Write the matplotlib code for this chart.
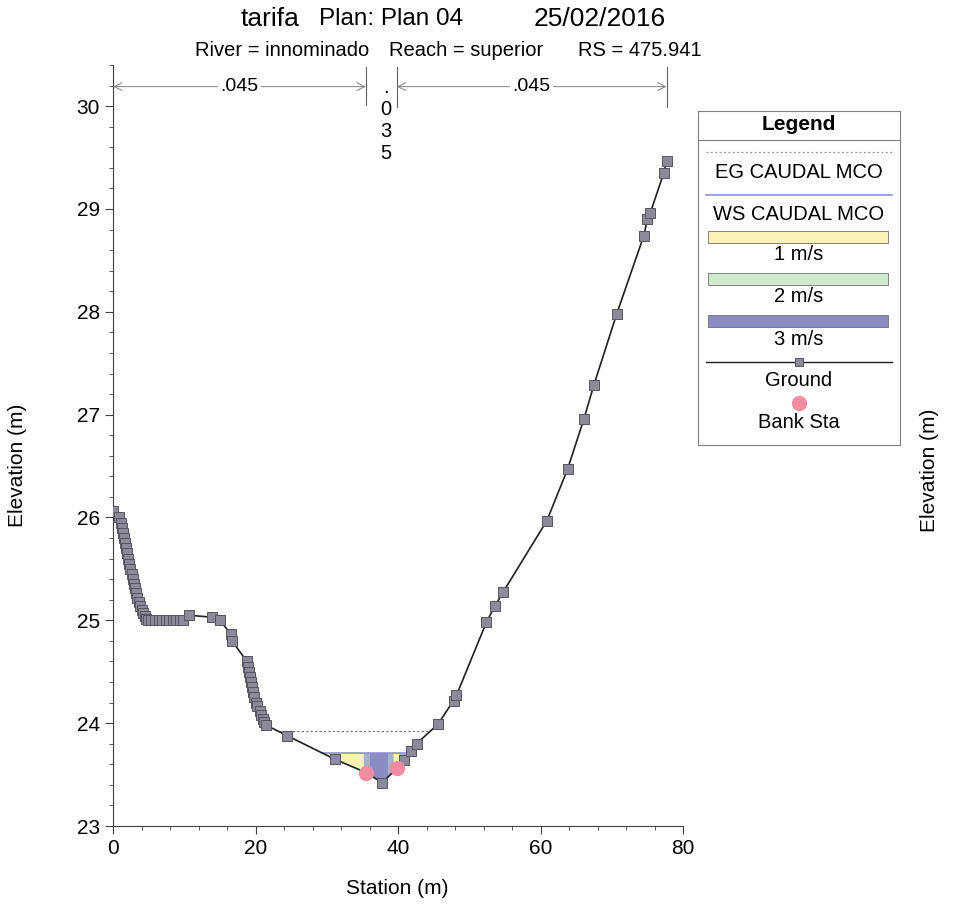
import numpy as np
import matplotlib.pyplot as plt
from matplotlib.ticker import MultipleLocator
from matplotlib.colors import LinearSegmentedColormap, Normalize
from matplotlib.patches import Rectangle, Polygon

plt.rcParams['font.family'] = ['Liberation Sans', 'DejaVu Sans']

# Ground profile
station = [0.0, 0.8, 1.1, 1.25, 1.4, 1.55, 1.7, 1.85, 2.0, 2.15, 2.3, 2.45, 2.6,
           2.75, 2.9, 3.05, 3.2, 3.4, 3.6, 3.8, 4.0, 4.2, 4.45, 4.7, 4.9,
           5.4, 5.9, 6.4, 6.9, 7.4, 7.9, 8.4, 8.9, 9.4, 9.8, 10.6, 13.9, 15.0,
           16.5, 16.7, 18.8, 18.95, 19.1, 19.25, 19.4, 19.55, 19.7, 19.85, 20.0,
           20.2, 20.6, 20.8, 21.0, 21.2, 21.5, 24.4,
           31.1, 35.5, 37.8, 39.8, 40.8, 41.8, 42.6, 45.6, 47.8, 48.2, 52.4,
           53.6, 54.8, 60.9, 63.8, 66.1, 67.5, 70.7, 74.5, 75.0, 75.4, 77.3, 77.7]
elevation = [26.06, 26.00, 25.95, 25.90, 25.85, 25.80, 25.75, 25.70, 25.65, 25.60,
             25.55, 25.50, 25.45, 25.40, 25.35, 25.31, 25.27, 25.22, 25.18, 25.14,
             25.10, 25.07, 25.04, 25.01, 25.00,
             25.00, 25.00, 25.00, 25.00, 25.00, 25.00, 25.00, 25.00, 25.00, 25.00,
             25.05, 25.03, 25.00,
             24.87, 24.80, 24.60, 24.55, 24.50, 24.45, 24.40, 24.35, 24.30, 24.25,
             24.20, 24.17, 24.12, 24.08, 24.04, 24.01, 23.98, 23.88,
             23.65, 23.52, 23.42, 23.56, 23.64, 23.73, 23.80, 23.99, 24.22, 24.27,
             24.98, 25.14, 25.28, 25.97, 26.47, 26.96, 27.29, 27.98, 28.74, 28.90,
             28.96, 29.35, 29.47]

bank_sta = [35.5, 39.8]
ws_elev = 23.71
eg_elev = 23.92
n_left, n_chan, n_right = '.045', '.035', '.045'

# velocity distribution (inner band edges and velocity in each band, m/s)
band_edges_inner = [35.2, 36.0, 38.6, 39.4, 40.2]
band_vel = [1.0, 2.6, 3.0, 2.6, 1.1, 2.5]
legend_vel = ['1 m/s', '2 m/s', '3 m/s']
vel_colors = ['#fbf3b6', '#cdebc9', '#8a8cc2']


def crossings(level):
    s = np.array(station)
    e = np.array(elevation) - level
    idx = np.where(np.sign(e[:-1]) != np.sign(e[1:]))[0]
    return [s[i] + (s[i + 1] - s[i]) * e[i] / (e[i] - e[i + 1]) for i in idx]


fig = plt.figure(figsize=(9.7, 9.22), dpi=100)
ax = fig.add_axes([113 / 970, 1 - 826 / 922, (683 - 113) / 970, (826 - 65) / 922])
ax.set_xlim(0, 80)
ax.set_ylim(23, 30.4)

cmap = LinearSegmentedColormap.from_list('vel', vel_colors)
norm = Normalize(1, 3)

ws_x = crossings(ws_elev)
edges = [ws_x[0]] + band_edges_inner + [ws_x[-1]]
for a, b, v in zip(edges[:-1], edges[1:], band_vel):
    inside = [s for s in station if a < s < b]
    xs = [a] + inside + [b]
    ys = np.interp(xs, station, elevation)
    pts = [(a, ws_elev)] + list(zip(xs, ys)) + [(b, ws_elev)]
    ax.add_patch(Polygon(pts, closed=True, facecolor=cmap(norm(v)), edgecolor='none', zorder=1))

ax.plot([ws_x[0], ws_x[-1]], [ws_elev, ws_elev], color='#9090d8', lw=1.2, zorder=2)
eg_x = crossings(eg_elev)
ax.plot([eg_x[0], eg_x[-1]], [eg_elev, eg_elev], color='#707070', lw=0.8,
        ls=(0, (2, 2)), zorder=2)

ax.plot(station, elevation, color='#202020', lw=1.2, marker='s', markersize=6.8,
        mfc='#8a8a98', mec='#55555f', mew=0.7, zorder=3)
ax.plot(bank_sta, np.interp(bank_sta, station, elevation), 'o', color='#f28ca2',
        markersize=10, zorder=4)

# n-value brackets
y_arr = 30.19
for xv, y0 in [(bank_sta[0], 30.01), (bank_sta[1], 29.99), (station[-1], 29.99)]:
    ax.plot([xv, xv], [y0, 30.38], color='#606060', lw=0.8, clip_on=False)
for x0, x1, lab in [(0, bank_sta[0], n_left), (bank_sta[1], station[-1], n_right)]:
    ax.annotate('', xy=(x1, y_arr), xytext=(x0, y_arr),
                arrowprops=dict(arrowstyle='<->', color='#909090', lw=0.8,
                                shrinkA=0, shrinkB=0, mutation_scale=14))
    ax.text((x0 + x1) / 2, y_arr, lab, ha='center', va='center', fontsize=14,
            bbox=dict(facecolor='white', edgecolor='none', pad=2))
ax.text((bank_sta[0] + bank_sta[1]) / 2 + 0.6, 30.27, '\n'.join(n_chan), ha='center',
        va='top', fontsize=14.5, linespacing=1.2)

ax.spines['top'].set_visible(False)
ax.spines['right'].set_visible(False)
for sp in ['left', 'bottom']:
    ax.spines[sp].set_color('#404040')
ax.xaxis.set_major_locator(MultipleLocator(20))
ax.xaxis.set_minor_locator(MultipleLocator(4))
ax.yaxis.set_major_locator(MultipleLocator(1))
ax.yaxis.set_minor_locator(MultipleLocator(0.2))
ax.tick_params(which='major', length=6, labelsize=15, color='#404040')
ax.tick_params(which='minor', length=3, color='#404040')

fig.text(397 / 970, 1 - 888 / 922, 'Station (m)', ha='center', va='center', fontsize=15)
fig.text(18 / 970, 1 - 465 / 922, 'Elevation (m)', ha='center', va='center',
         rotation=90, fontsize=15)
fig.text(930 / 970, 1 - 470 / 922, 'Elevation (m)', ha='center', va='center',
         rotation=90, fontsize=15)

# titles
fig.text(270 / 970, 1 - 19 / 922, 'tarifa', ha='center', va='center', fontsize=19)
fig.text(391 / 970, 1 - 19 / 922, 'Plan: Plan 04', ha='center', va='center', fontsize=17.5)
fig.text(600 / 970, 1 - 19 / 922, '25/02/2016', ha='center', va='center', fontsize=19)
fig.text(282 / 970, 1 - 50 / 922, 'River = innominado', ha='center', va='center', fontsize=14.5)
fig.text(466 / 970, 1 - 50 / 922, 'Reach = superior', ha='center', va='center', fontsize=14.5)
fig.text(640 / 970, 1 - 50 / 922, 'RS = 475.941', ha='center', va='center', fontsize=14.5)

# legend box drawn by hand
lg = fig.add_axes([698 / 970, 1 - 445 / 922, 202 / 970, 334 / 922])
lg.set_xlim(0, 202)
lg.set_ylim(334, 0)
lg.set_xticks([])
lg.set_yticks([])
for sp in lg.spines.values():
    sp.set_color('#808080')
lg.text(101, 13, 'Legend', ha='center', va='center', fontsize=15, fontweight='bold')
lg.plot([0, 202], [29, 29], color='#808080', lw=0.8)
lg.plot([8, 194], [41, 41], color='#909090', lw=0.9, ls=(0, (1.5, 2)))
lg.text(101, 61, 'EG CAUDAL MCO', ha='center', va='center', fontsize=14.5)
lg.plot([8, 194], [84, 84], color='#9090d8', lw=1.2)
lg.text(101, 103, 'WS CAUDAL MCO', ha='center', va='center', fontsize=14.5)
for i, lab in enumerate(legend_vel):
    top = 120 + i * 42
    lg.add_patch(Rectangle((10, top), 180, 12, facecolor=cmap(norm(i + 1)),
                           edgecolor='#707070', lw=0.6))
    lg.text(101, top + 24, lab, ha='center', va='center', fontsize=14.5)
lg.plot([8, 194], [251, 251], color='#202020', lw=1.0)
lg.plot([101], [251], 's', markersize=6, mfc='#8a8a98', mec='#55555f', mew=0.7)
lg.text(101, 269, 'Ground', ha='center', va='center', fontsize=14.5)
lg.plot([101], [292], 'o', color='#f28ca2', markersize=10)
lg.text(101, 311, 'Bank Sta', ha='center', va='center', fontsize=14.5)

plt.savefig('out.png', dpi=100)
plt.close()
